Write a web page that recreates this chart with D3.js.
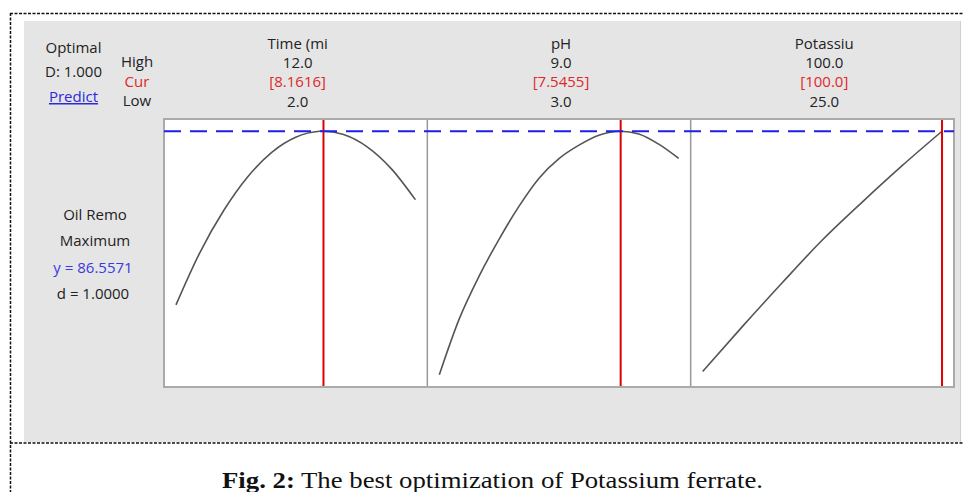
<!DOCTYPE html>
<html>
<head>
<meta charset="utf-8">
<script src="https://cdn.jsdelivr.net/npm/d3@7"></script>
<style>
  body { margin: 0; background: #fff; }
  svg { display: block; }
  .lbl { font-family: "Open Sans", sans-serif; font-size: 15px; fill: #222; }
</style>
</head>
<body>
<svg id="chart" width="963" height="492"></svg>
<script>
// factor headers (truncated as in Minitab)
const factors = ['Time (mi', 'pH', 'Potassiu'];
const highs = ['12.0', '9.0', '100.0'];
const curs = ['[8.1616]', '[7.5455]', '[100.0]'];
const lows = ['2.0', '3.0', '25.0'];
const lowVals = [2, 3, 25];
const highVals = [12, 9, 100];
const curVals = [8.1616, 7.5455, 100];

// response traces
const timeX = [2, 3, 4, 5, 6, 7, 8, 8.1616, 9, 10, 11, 12];
const timeY = [57.64, 66.36, 73.39, 78.98, 83.03, 85.54, 86.54, 86.56, 85.99, 83.91, 80.29, 75.16];
const phX = [3, 3.5, 4, 4.5, 5, 5.5, 6, 6.5, 7, 7.5455, 8, 8.5, 9];
const phY = [46.00, 55.31, 62.46, 68.6, 74.09, 78.74, 81.99, 84.23, 85.89, 86.56, 86.1, 84.40, 82.02];
const kX = [25, 37.5, 50, 62.5, 75, 87.5, 100];
const kY = [46.55, 54.06, 61.37, 68.44, 74.76, 80.82, 86.56];

const yOpt = 86.5571;
const traces = [[timeX, timeY], [phX, phY], [kX, kY]];

const svg = d3.select('#chart');

// dashed frame of the figure
const frame = svg.append('g')
  .attr('stroke', '#111').attr('stroke-width', 1.5).attr('stroke-dasharray', '3,1.5');
frame.append('line').attr('x1', 10).attr('x2', 963).attr('y1', 13.5).attr('y2', 13.5);
frame.append('line').attr('x1', 10.5).attr('x2', 10.5).attr('y1', 13).attr('y2', 492);
frame.append('line').attr('x1', 10).attr('x2', 963).attr('y1', 443).attr('y2', 443);

// grey minitab background
svg.append('rect')
  .attr('x', 24).attr('y', 21).attr('width', 936).attr('height', 421)
  .attr('fill', '#e5e5e5');
svg.append('line')
  .attr('x1', 960.5).attr('x2', 960.5).attr('y1', 21).attr('y2', 442)
  .attr('stroke', '#cfcfcf');

const panelX = d3.scaleLinear().domain([0, 3]).range([164, 954]);
const pw = panelX(1) - panelX(0);
const pTop = 119, pBottom = 387;

const allY = timeY.concat(phY, kY, [yOpt]);
const [ymin, ymax] = d3.extent(allY);
const pad = (ymax - ymin) * 0.05;
const y = d3.scaleLinear().domain([ymin - pad, ymax + pad]).range([pBottom, pTop]);

const line = d3.line().curve(d3.curveMonotoneX);

factors.forEach((f, i) => {
  const x0 = panelX(i);
  const span = highVals[i] - lowVals[i];
  const x = d3.scaleLinear()
    .domain([lowVals[i] - span * 0.05, highVals[i] + span * 0.05])
    .range([x0, x0 + pw]);

  svg.append('rect')
    .attr('x', x0).attr('y', pTop).attr('width', pw).attr('height', pBottom - pTop)
    .attr('fill', '#fff');

  const [xs, ys] = traces[i];
  svg.append('path')
    .attr('d', line(xs.map((v, j) => [x(v), y(ys[j])])))
    .attr('fill', 'none').attr('stroke', '#555').attr('stroke-width', 1.6);

  svg.append('line')
    .attr('x1', x(curVals[i])).attr('x2', x(curVals[i]))
    .attr('y1', pTop).attr('y2', pBottom)
    .attr('stroke', '#e00000').attr('stroke-width', 2);

  const cx = x0 + pw / 2 + 2;
  const hdr = svg.append('g').attr('text-anchor', 'middle');
  hdr.append('text').attr('class', 'lbl').attr('x', cx).attr('y', 49).text(f);
  hdr.append('text').attr('class', 'lbl').attr('x', cx).attr('y', 68).text(highs[i]);
  hdr.append('text').attr('class', 'lbl').attr('x', cx).attr('y', 87)
    .style('fill', '#e02828').text(curs[i]);
  hdr.append('text').attr('class', 'lbl').attr('x', cx).attr('y', 107).text(lows[i]);
});

// separators + outer box
for (let i = 1; i < 3; i++) {
  svg.append('line')
    .attr('x1', panelX(i)).attr('x2', panelX(i)).attr('y1', pTop).attr('y2', pBottom)
    .attr('stroke', '#999').attr('stroke-width', 1.5);
}
svg.append('rect')
  .attr('x', panelX(0)).attr('y', pTop).attr('width', panelX(3) - panelX(0)).attr('height', pBottom - pTop)
  .attr('fill', 'none').attr('stroke', '#aaa').attr('stroke-width', 2);

// optimum response, dashed across all panels
svg.append('line')
  .attr('x1', panelX(0)).attr('x2', panelX(3))
  .attr('y1', y(yOpt)).attr('y2', y(yOpt))
  .attr('stroke', '#1f1fe8').attr('stroke-width', 2).attr('stroke-dasharray', '17,9');

// left labels
const left = svg.append('g').attr('text-anchor', 'middle');
left.append('text').attr('class', 'lbl').attr('x', 73.5).attr('y', 53).text('Optimal');
left.append('text').attr('class', 'lbl').attr('x', 73.5).attr('y', 77).text('D: 1.000');
left.append('text').attr('class', 'lbl').attr('x', 73.5).attr('y', 102)
  .style('fill', '#2b2bd8').style('text-decoration', 'underline').text('Predict');
left.append('text').attr('class', 'lbl').attr('x', 137).attr('y', 67).text('High');
left.append('text').attr('class', 'lbl').attr('x', 137).attr('y', 87)
  .style('fill', '#e02828').text('Cur');
left.append('text').attr('class', 'lbl').attr('x', 137).attr('y', 106).text('Low');

left.append('text').attr('class', 'lbl').attr('x', 95).attr('y', 220).text('Oil Remo');
left.append('text').attr('class', 'lbl').attr('x', 95).attr('y', 246).text('Maximum');
left.append('text').attr('class', 'lbl').attr('x', 93).attr('y', 273)
  .style('fill', '#3a3ae0').text('y = 86.5571');
left.append('text').attr('class', 'lbl').attr('x', 93).attr('y', 299).text('d = 1.0000');

// caption (stretched a little, like the original figure)
const cap = svg.append('text')
  .attr('x', 222).attr('y', 488)
  .attr('textLength', 541).attr('lengthAdjust', 'spacingAndGlyphs')
  .style('font-family', '"Liberation Serif", "Times New Roman", serif')
  .style('font-size', '24px').style('fill', '#111');
cap.append('tspan').style('font-weight', 'bold').text('Fig. 2:');
cap.append('tspan').text(' The best optimization of Potassium ferrate.');
</script>
</body>
</html>
